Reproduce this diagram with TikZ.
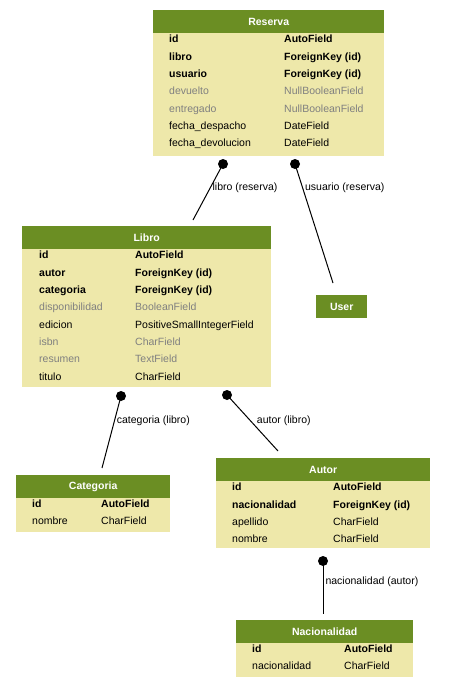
\documentclass[tikz,border=0pt]{standalone}
\usepackage{fontspec}
\setmainfont{Liberation Sans}
\usepackage{tikz}
\definecolor{hdrgreen}{HTML}{6B8E23}
\definecolor{bdyyellow}{HTML}{EEE8AA}
\definecolor{fieldgrey}{HTML}{808080}

\begin{document}
\begin{tikzpicture}[x=1pt, y=-1pt, font=\fontsize{10.5}{12}\selectfont,
	hdr/.style={fill=hdrgreen, text=white, font=\fontsize{10.5}{12}\selectfont\bfseries, inner sep=0pt, minimum height=22.5pt, anchor=north west},
	bdy/.style={fill=bdyyellow, inner sep=0pt, anchor=north west},
	fld/.style={anchor=west, inner sep=0pt, text height=8pt, text depth=2pt},
	key/.style={fld, font=\fontsize{10.5}{12}\selectfont\bfseries},
	pln/.style={fld},
	nul/.style={fld, text=fieldgrey},
	fk/.style={line width=1pt},
	fklabel/.style={anchor=west, inner sep=2pt}]
\path[fill=white, use as bounding box] (0,0) rectangle (448,688);

\node[hdr, minimum width=231pt] (reserva) at (153,10) {Reserva};
\node[bdy, minimum width=231pt, minimum height=123pt] (reserva-body) at (reserva.south west) {};
\foreach \fn/\ty/\st [count=\i] in {id/AutoField/key, libro/ForeignKey (id)/key, usuario/ForeignKey (id)/key, devuelto/NullBooleanField/nul, entregado/NullBooleanField/nul, fecha\_despacho/DateField/pln, fecha\_devolucion/DateField/pln} {
	\node[\st] (reserva-n\i) at ([shift={(16,{7+17.3*(\i-1)})}]reserva-body.north west) {\fn};
	\node[\st] (reserva-t\i) at ([shift={(131,{7+17.3*(\i-1)})}]reserva-body.north west) {\ty};
}

\node[hdr, minimum width=249pt] (libro) at (22,226) {Libro};
\node[bdy, minimum width=249pt, minimum height=138pt] (libro-body) at (libro.south west) {};
\foreach \fn/\ty/\st [count=\i] in {id/AutoField/key, autor/ForeignKey (id)/key, categoria/ForeignKey (id)/key, disponibilidad/BooleanField/nul, edicion/PositiveSmallIntegerField/pln, isbn/CharField/nul, resumen/TextField/nul, titulo/CharField/pln} {
	\node[\st] (libro-n\i) at ([shift={(17,{7+17.3*(\i-1)})}]libro-body.north west) {\fn};
	\node[\st] (libro-t\i) at ([shift={(113,{7+17.3*(\i-1)})}]libro-body.north west) {\ty};
}

\node[hdr, minimum width=51pt, minimum height=23pt] (user) at (316,295) {User};

\node[hdr, minimum width=154pt] (categoria) at (16,475) {Categoria};
\node[bdy, minimum width=154pt, minimum height=34pt] (categoria-body) at (categoria.south west) {};
\foreach \fn/\ty/\st [count=\i] in {id/AutoField/key, nombre/CharField/pln} {
	\node[\st] (categoria-n\i) at ([shift={(16,{7+16.5*(\i-1)})}]categoria-body.north west) {\fn};
	\node[\st] (categoria-t\i) at ([shift={(85,{7+16.5*(\i-1)})}]categoria-body.north west) {\ty};
}

\node[hdr, minimum width=214pt] (autor) at (216,458) {Autor};
\node[bdy, minimum width=214pt, minimum height=67pt] (autor-body) at (autor.south west) {};
\foreach \fn/\ty/\st [count=\i] in {id/AutoField/key, nacionalidad/ForeignKey (id)/key, apellido/CharField/pln, nombre/CharField/pln} {
	\node[\st] (autor-n\i) at ([shift={(16,{7+17.3*(\i-1)})}]autor-body.north west) {\fn};
	\node[\st] (autor-t\i) at ([shift={(117,{7+17.3*(\i-1)})}]autor-body.north west) {\ty};
}

\node[hdr, minimum width=177pt] (nacionalidad) at (236,620) {Nacionalidad};
\node[bdy, minimum width=177pt, minimum height=34pt] (nacionalidad-body) at (nacionalidad.south west) {};
\foreach \fn/\ty/\st [count=\i] in {id/AutoField/key, nacionalidad/CharField/pln} {
	\node[\st] (nacionalidad-n\i) at ([shift={(16,{7+17*(\i-1)})}]nacionalidad-body.north west) {\fn};
	\node[\st] (nacionalidad-t\i) at ([shift={(108,{7+17*(\i-1)})}]nacionalidad-body.north west) {\ty};
}

\coordinate (reserva-libro) at (223,164);
\coordinate (libro-in) at (193,220);
\coordinate (reserva-usuario) at (295,164);
\coordinate (user-in) at (333,283);
\coordinate (libro-categoria) at (121,396);
\coordinate (categoria-in) at (102,468);
\coordinate (libro-autor) at (227,395);
\coordinate (autor-in) at (278,451);
\coordinate (autor-nacionalidad) at (323,561);
\coordinate (nacionalidad-in) at (323,614);

\draw[fk] (reserva-libro) -- node[fklabel, pos=0.43] {libro (reserva)} (libro-in);
\draw[fk] (reserva-usuario) -- node[fklabel, pos=0.2] {usuario (reserva)} (user-in);
\draw[fk] (libro-categoria) -- node[fklabel, pos=0.35] {categoria (libro)} (categoria-in);
\draw[fk] (libro-autor) -- node[fklabel, pos=0.46, xshift=4pt] {autor (libro)} (autor-in);
\draw[fk] (autor-nacionalidad) -- node[fklabel, pos=0.4] {nacionalidad (autor)} (nacionalidad-in);
\foreach \c in {reserva-libro, reserva-usuario, libro-categoria, libro-autor, autor-nacionalidad}
	\fill (\c) circle (5pt);
\end{tikzpicture}
\end{document}
